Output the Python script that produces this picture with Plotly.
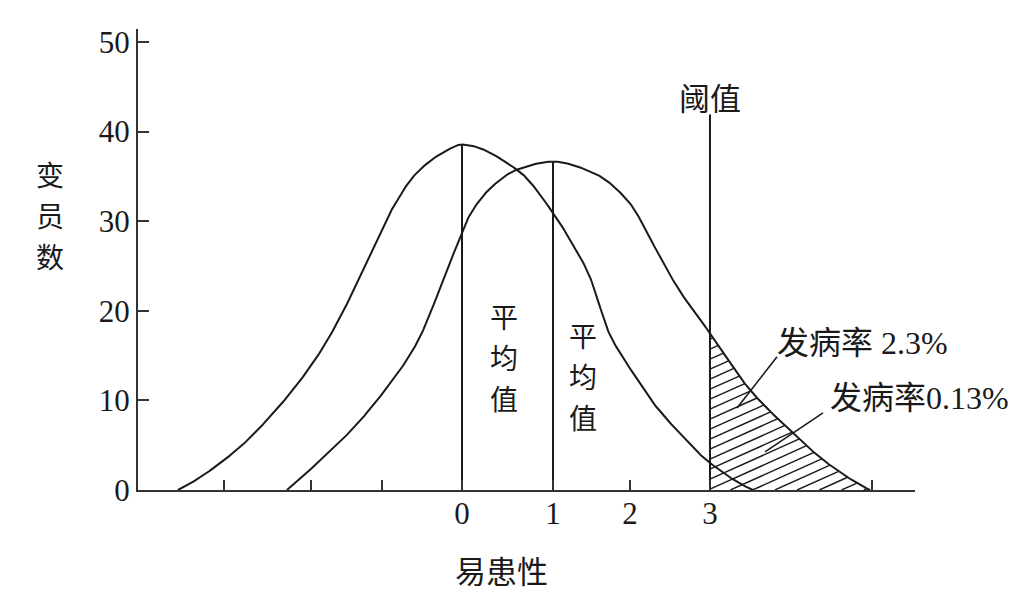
import numpy as np
import plotly.graph_objects as go

# ---- data (x: liability as drawn, y: number of members) ----
c1_x = [-3.121, -2.516, -2.033, -1.593, -1.319, -1.055, -0.934, -0.791, -0.495, -0.209, 0.0,
        0.604, 1.0, 1.187, 1.388, 1.626, 1.736, 1.883, 2.103, 2.359, 2.725, 3.198]
c1_y = [0, 4.13, 9.05, 14.86, 19.66, 25.36, 27.93, 30.95, 35.42, 37.65, 38.55,
        35.75, 30.95, 27.93, 24.2, 17.3, 15.3, 13.0, 9.7, 6.7, 3.02, 0]
c2_x = [-1.923, -1.593, -1.231, -0.868, -0.495, -0.275, -0.132, 0.0, 0.088, 0.341, 0.604,
        1.0, 1.440, 1.813, 2.176, 2.363, 2.725, 3.165, 3.637, 4.011, 4.484]
c2_y = [0, 2.98, 6.51, 10.84, 16.42, 21.6, 25.36, 28.72, 30.73, 33.96, 35.75,
        36.65, 35.42, 32.4, 26.03, 22.68, 17.5, 11.17, 6.37, 3.02, 0]

mean1 = 0.0
mean2 = 1.0
threshold = 2.725
threshold_top = 41.9

x_tickvals = [-2.615, -1.659, -0.879, 0.0, 1.0, 1.846, 2.725, 4.505]
x_ticktext = ["", "", "", "0", "1", "2", "3", ""]
y_tickvals = [0, 10, 20, 30, 40, 50]
y_ticktext = ["0", "10", "20", "30", "40", "50"]

x_range = [-3.5604, 4.978]
y_range = [0, 51.45]


def pchip(xk, yk, xs):
    xk = np.asarray(xk, float); yk = np.asarray(yk, float)
    h = np.diff(xk); d = np.diff(yk) / h
    n = len(xk); m = np.zeros(n)
    for k in range(1, n - 1):
        if d[k - 1] * d[k] <= 0:
            m[k] = 0
        else:
            w1 = 2 * h[k] + h[k - 1]; w2 = h[k] + 2 * h[k - 1]
            m[k] = (w1 + w2) / (w1 / d[k - 1] + w2 / d[k])
    m[0] = ((2 * h[0] + h[1]) * d[0] - h[0] * d[1]) / (h[0] + h[1])
    if np.sign(m[0]) != np.sign(d[0]): m[0] = 0
    m[-1] = ((2 * h[-1] + h[-2]) * d[-1] - h[-1] * d[-2]) / (h[-1] + h[-2])
    if np.sign(m[-1]) != np.sign(d[-1]): m[-1] = 0
    idx = np.clip(np.searchsorted(xk, xs) - 1, 0, n - 2)
    t = (xs - xk[idx]) / h[idx]
    h00 = 2 * t**3 - 3 * t**2 + 1; h10 = t**3 - 2 * t**2 + t
    h01 = -2 * t**3 + 3 * t**2; h11 = t**3 - t**2
    return (h00 * yk[idx] + h10 * h[idx] * m[idx] + h01 * yk[idx + 1] + h11 * h[idx] * m[idx + 1])


xs1 = np.linspace(c1_x[0], c1_x[-1], 600); ys1 = pchip(c1_x, c1_y, xs1)
xs2 = np.linspace(c2_x[0], c2_x[-1], 600); ys2 = pchip(c2_x, c2_y, xs2)

# ---- hatching under curve 2 beyond the threshold ----
px_per_x = 777 / (x_range[1] - x_range[0])
px_per_y = 461 / (y_range[1] - y_range[0])
k = 0.45 * px_per_x / px_per_y          # slope of hatch lines in data units
step = 10 / px_per_y                    # vertical spacing of hatch lines
grid = np.linspace(threshold, c2_x[-1], 2000)
top = pchip(c2_x, c2_y, grid)
hx, hy = [], []
y_top_th = top[0]
y0 = y_top_th - step * 0.6
while y0 > -k * (c2_x[-1] - threshold):
    line = y0 + k * (grid - threshold)
    inside = (line >= 0) & (line <= top)
    if inside.any():
        sel = np.where(inside)[0]
        xa, xb = grid[sel[0]], grid[sel[-1]]
        hx += [xa, xb, None]
        hy += [y0 + k * (xa - threshold), y0 + k * (xb - threshold), None]
    y0 -= step

ink = '#1a1a1a'
fig = go.Figure()
fig.add_trace(go.Scatter(x=hx, y=hy, mode='lines', line=dict(color=ink, width=1.4), hoverinfo='skip'))
fig.add_trace(go.Scatter(x=xs1, y=ys1, mode='lines', line=dict(color=ink, width=2), hoverinfo='skip'))
fig.add_trace(go.Scatter(x=xs2, y=ys2, mode='lines', line=dict(color=ink, width=2), hoverinfo='skip'))
fig.add_trace(go.Scatter(x=[mean1, mean1], y=[0, max(c1_y)], mode='lines', line=dict(color=ink, width=2), hoverinfo='skip'))
fig.add_trace(go.Scatter(x=[mean2, mean2], y=[0, max(c2_y)], mode='lines', line=dict(color=ink, width=2), hoverinfo='skip'))
fig.add_trace(go.Scatter(x=[threshold, threshold], y=[0, threshold_top], mode='lines', line=dict(color=ink, width=2), hoverinfo='skip'))

cjk = 'Noto Sans CJK SC'
mixed = 'Liberation Serif, Noto Sans CJK SC'
annotations = [
    dict(x=threshold, y=43.9, text='阈值', font=dict(family=cjk, size=31, color=ink)),
    dict(x=3.44, y=16.42, text='发病率 2.3%', xanchor='left', font=dict(family=mixed, size=32, color=ink)),
    dict(x=4.02, y=10.28, text='发病率0.13%', xanchor='left', font=dict(family=mixed, size=32, color=ink)),
    dict(x=0.429, y=-0.1735, yref='paper', text='易患性', font=dict(family=cjk, size=31, color=ink)),
]

# vertical (stacked) labels: one character per line, 41 px apart
line_gap = 41 / px_per_y
stacked = [
    (dict(x=0.462), 14.86, '平均值'),
    (dict(x=1.33), 12.74, '平均值'),
    (dict(x=-0.1133, xref='paper'), 30.7, '变员数'),
]
for base, yc, word in stacked:
    for i, ch in enumerate(word):
        a = dict(base)
        a.update(y=yc + (1 - i) * line_gap, text=ch, font=dict(family=cjk, size=28, color=ink))
        annotations.append(a)

for a in annotations:
    a.setdefault('xref', 'x'); a.setdefault('yref', 'y'); a['showarrow'] = False
    a.setdefault('xanchor', 'center'); a['yanchor'] = 'middle'

leaders = [((3.462, 14.86), (3.022, 9.16)), ((3.967, 8.60), (3.330, 4.25))]
shapes = [dict(type='line', xref='x', yref='y', x0=a[0], y0=a[1], x1=b[0], y1=b[1],
               line=dict(color=ink, width=1.6)) for a, b in leaders]

# page body has an 8px margin, so the figure is 8px smaller and margins shifted
fig.update_layout(width=1028, height=600, margin=dict(l=130, r=121, t=21, b=118),
                  plot_bgcolor='white', paper_bgcolor='white', showlegend=False,
                  annotations=annotations, shapes=shapes)
fig.update_xaxes(range=x_range, tickmode='array', tickvals=x_tickvals, ticktext=x_ticktext,
                 ticks='inside', ticklen=10, tickwidth=2, tickcolor='#333',
                 showline=True, linecolor='#333', linewidth=2, showgrid=False, zeroline=False,
                 ticklabelstandoff=-5,
                 tickfont=dict(family='Liberation Serif', size=31, color=ink))
fig.update_yaxes(range=y_range, tickmode='array', tickvals=y_tickvals, ticktext=y_ticktext,
                 ticks='inside', ticklen=11, tickwidth=2, tickcolor='#333',
                 showline=True, linecolor='#333', linewidth=2, showgrid=False, zeroline=False,
                 tickfont=dict(family='Liberation Serif', size=31, color=ink))
fig.write_html('out.html')
